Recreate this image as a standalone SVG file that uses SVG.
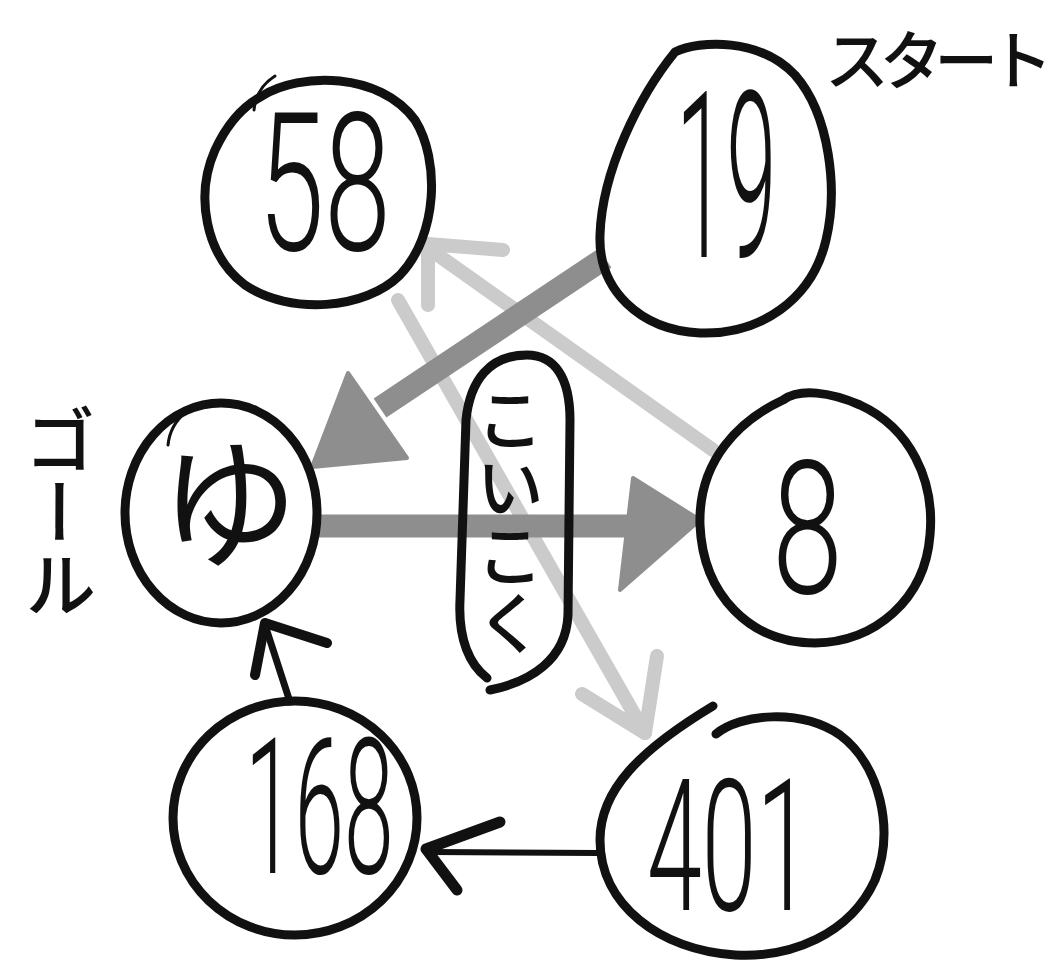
<svg xmlns="http://www.w3.org/2000/svg" width="1058" height="965" viewBox="0 0 1058 965">
<style>
.ol{fill:none;stroke:#111;stroke-width:9;stroke-linecap:round;stroke-linejoin:round}
.thin{fill:none;stroke:#111;stroke-width:3;stroke-linecap:round}
.num{font-family:Roboto,"Liberation Sans",sans-serif;font-weight:300;fill:#111}
.jp{font-family:"Noto Sans CJK JP",sans-serif;fill:#111}
.vt{writing-mode:vertical-rl}
.dk{fill:#8e8e8e;stroke:#8e8e8e;stroke-width:4;stroke-linejoin:round}
.dks{fill:none;stroke:#8e8e8e;stroke-width:23}
.lt{fill:none;stroke:#cbcbcb;stroke-width:14;stroke-linecap:round;stroke-linejoin:round}
.blk{fill:none;stroke:#111;stroke-linecap:round;stroke-linejoin:round}
</style>
<rect width="1058" height="965" fill="#fff"/>
<g id="connectors">
  <path class="lt" d="M713,450 L428,248"/>
  <path class="lt" d="M503,250 L428,244 L428,305"/>
  <path class="lt" d="M398,300 L645,733"/>
  <path class="lt" d="M582,694 L645,733 L657,656"/>
  <path class="dks" d="M605,258 L380,408"/>
  <polygon class="dk" points="348,373 312,467 407,458"/>
  <path class="dks" d="M318,526 L630,526"/>
  <polygon class="dk" points="633,478 700,520 620,590"/>
  <path class="blk" stroke-width="7" d="M290,702 L266,628"/>
  <path class="blk" stroke-width="10" d="M255,675 L265,623 L327,643"/>
  <path class="blk" stroke-width="6" d="M598,853 L432,852"/>
  <path class="blk" stroke-width="11" d="M500,822 L426,849 L457,890"/>
</g>
<g id="note">
  <path class="ol" stroke-width="5" d="M490,690 C530,682 566,660 568,615 L570,420 C570,378 555,355 527,355 C490,355 470,380 466,420 L460,600 C458,640 470,665 487,678"/>
  <text class="jp vt" x="510" y="385" font-size="68" font-weight="500">こいこく</text>
</g>
<g id="label-start">
  <text class="jp" x="825" y="84" font-size="64" font-weight="500" textLength="228" lengthAdjust="spacing">スタート</text>
</g>
<g id="label-goal">
  <text class="jp vt" x="60" y="404" font-size="72" font-weight="500">ゴール</text>
</g>
<g id="node-58">
  <path class="ol" d="M262,96 C300,72 380,72 415,120 C440,160 438,235 400,275 C365,310 290,315 245,285 C205,255 195,195 215,150 C228,122 245,105 262,96 Z"/>
  <path class="thin" d="M275,76 Q256,88 254,110"/>
  <text class="num" transform="translate(258,250) scale(0.62,1)" font-size="193">58</text>
</g>
<g id="node-19">
  <path class="ol" d="M675,52 C700,40 760,38 795,75 C830,115 838,190 826,240 C812,300 760,335 700,333 C640,330 598,290 600,235 C602,170 640,95 675,52 Z"/>
  <text class="num" transform="translate(676,257) scale(0.39,1)" font-size="232">19</text>
</g>
<g id="node-goal">
  <ellipse class="ol" cx="221" cy="513" rx="96" ry="110"/>
  <path class="thin" d="M186,412 Q170,425 168,445"/>
  <text class="jp" x="229" y="556" font-size="140" font-weight="400" text-anchor="middle">ゆ</text>
</g>
<g id="node-8">
  <path class="ol" d="M783,400 C800,388 830,392 860,405 C910,428 935,480 930,535 C925,600 875,642 815,643 C750,643 703,595 700,525 C698,460 740,420 783,400 Z"/>
  <text class="num" transform="translate(772,593) scale(0.69,1)" font-size="185">8</text>
</g>
<g id="node-168">
  <ellipse class="ol" cx="295" cy="818" rx="122" ry="117"/>
  <text class="num" transform="translate(245,873) scale(0.47,1)" font-size="190">168</text>
</g>
<g id="node-401">
  <path class="ol" d="M716,734 C740,714 800,708 840,735 C880,765 895,830 875,880 C850,935 790,958 735,955 C660,950 600,905 600,840 C600,790 640,750 713,706"/>
  <text class="num" transform="translate(647,910) scale(0.54,1)" font-size="183">401</text>
</g>
</svg>
